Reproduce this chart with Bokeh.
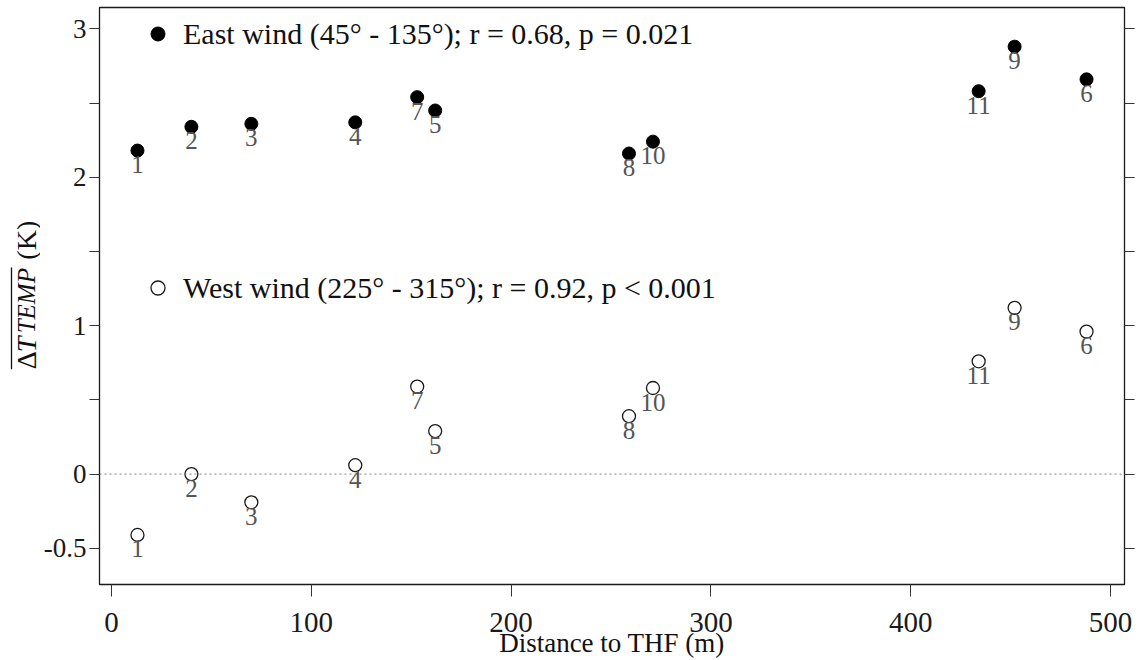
import math
from bokeh.plotting import figure
from bokeh.layouts import row
from bokeh.models import (Range1d, LinearAxis, FixedTicker, Span, Legend, LegendItem,
                          ColumnDataSource)
from bokeh.core.properties import value
from bokeh.embed import file_html
from bokeh.resources import INLINE

# ---- data ----
site_labels = ["1", "2", "3", "4", "5", "6", "7", "8", "9", "10", "11"]
distance_m = [13, 40, 70, 122, 162, 488, 153, 259, 452, 271, 434]
east_dT = [2.18, 2.34, 2.36, 2.37, 2.45, 2.66, 2.54, 2.16, 2.88, 2.24, 2.58]
west_dT = [-0.41, 0.00, -0.19, 0.06, 0.29, 0.96, 0.59, 0.39, 1.12, 0.58, 0.76]

x_ticks = [0, 100, 200, 300, 400, 500]
y_ticks = [-0.5, 0, 0.5, 1, 1.5, 2, 2.5, 3]
y_tick_labels = {-0.5: "-0.5", 0: "0", 0.5: "", 1: "1", 1.5: "", 2: "2", 2.5: "", 3: "3"}

east_legend = "East wind (45\u00b0 - 135\u00b0); r = 0.68, p = 0.021"
west_legend = "West wind (225\u00b0 - 315\u00b0); r = 0.92, p < 0.001"
x_title = "Distance to THF (m)"
# y title pieces: text, style, size
y_title_parts = [("\u0394", "normal", "28px"), ("T", "italic", "28px"),
                 ("TEMP", "italic", "25px"), ("(K)", "normal", "28px")]

SERIF = "Liberation Serif"
INK = "#111111"
H = 660
TOP, BOTTOM = 7, 74

# ---------------- narrow panel holding the y-axis title ----------------
LW = 40
ylab = figure(width=LW, height=H, output_backend="svg", toolbar_location=None,
              x_range=Range1d(0, LW), y_range=Range1d(BOTTOM, H - TOP),
              x_axis_location=None, y_axis_location=None,
              min_border_left=0, min_border_right=0,
              min_border_top=TOP, min_border_bottom=BOTTOM,
              outline_line_color=None)
ylab.grid.visible = False
ylab.background_fill_color = "white"
ylab.border_fill_color = "white"
part_pos = [290.0, 307.1, 326.0, 400.0]   # layout positions (px from canvas bottom)
for (txt, style, size), ypos in zip(y_title_parts, part_pos):
    ylab.text(x=[25.5], y=[ypos], text=[txt], angle=math.pi / 2,
              text_font=value(SERIF), text_font_style=style, text_font_size=size,
              text_color=INK, text_align="left", text_baseline="alphabetic")
ylab.segment(x0=[11], y0=[290], x1=[11], y1=[392], line_width=1.3, line_color=INK)

# ---------------- main chart ----------------
p = figure(width=1140 - LW, height=H, output_backend="svg", toolbar_location=None,
           x_range=Range1d(-6, 507), y_range=Range1d(-0.744, 3.144),
           min_border_left=98 - LW, min_border_right=16, min_border_top=TOP,
           min_border_bottom=BOTTOM)
p.grid.visible = False
p.outline_line_color = "#1a1a1a"
p.outline_line_width = 1.3
p.background_fill_color = "white"
p.border_fill_color = "white"

# x axis
xa = p.xaxis[0]
xa.ticker = FixedTicker(ticks=x_ticks)
xa.major_tick_out = 12
xa.major_tick_in = 0
xa.minor_tick_line_color = None
xa.axis_line_color = None
xa.major_tick_line_color = "#333333"
xa.major_label_text_font = SERIF
xa.major_label_text_font_size = "29px"
xa.major_label_text_color = "#1a1a1a"
xa.major_label_standoff = 16
xa.axis_label = x_title
xa.axis_label_text_font = SERIF
xa.axis_label_text_font_style = "normal"
xa.axis_label_text_font_size = "27px"
xa.axis_label_text_color = INK
xa.axis_label_standoff = -7

# left y axis
ya = p.yaxis[0]
ya.ticker = FixedTicker(ticks=y_ticks)
ya.major_label_overrides = y_tick_labels
ya.major_tick_out = 10
ya.major_tick_in = 0
ya.minor_tick_line_color = None
ya.axis_line_color = None
ya.major_tick_line_color = "#333333"
ya.major_label_text_font = SERIF
ya.major_label_text_font_size = "27px"
ya.major_label_text_color = "#1a1a1a"
ya.major_label_standoff = 3

# right axis (ticks only)
ra = LinearAxis(ticker=FixedTicker(ticks=y_ticks),
                major_label_overrides={t: "" for t in y_ticks},
                major_tick_out=10, major_tick_in=0, axis_line_color=None,
                minor_tick_line_color=None, major_tick_line_color="#333333",
                major_label_standoff=0)
p.add_layout(ra, "right")

# zero reference line
p.add_layout(Span(location=0, dimension="width", line_color="#808080",
                  line_dash="2 3", line_width=1))

east_src = ColumnDataSource(dict(x=distance_m, y=east_dT, lab=site_labels))
west_src = ColumnDataSource(dict(x=distance_m, y=west_dT, lab=site_labels))

r_east = p.scatter("x", "y", source=east_src, marker="circle", size=13,
                   fill_color="black", line_color="black", line_width=1)
r_west = p.scatter("x", "y", source=west_src, marker="circle", size=13,
                   fill_color=None, line_color="#1a1a1a", line_width=1.3)

for src in (east_src, west_src):
    p.text(x="x", y="y", text="lab", source=src, text_font=value(SERIF),
           text_font_size="25px", text_color="#555555", text_align="center",
           text_baseline="alphabetic", y_offset=14)

common_leg = dict(padding=0, margin=0, spacing=0, border_line_color=None,
                  background_fill_alpha=0, glyph_width=35, glyph_height=35,
                  label_standoff=8, label_text_font=SERIF,
                  label_text_font_size="30px", label_text_color=INK)
leg1 = Legend(items=[LegendItem(label=east_legend, renderers=[r_east])],
              location=(41, 533), **common_leg)
leg2 = Legend(items=[LegendItem(label=west_legend, renderers=[r_west])],
              location=(41, 279), **common_leg)
p.add_layout(leg1)
p.add_layout(leg2)

layout = row(ylab, p)
open("out.html", "w").write(file_html(layout, INLINE))
